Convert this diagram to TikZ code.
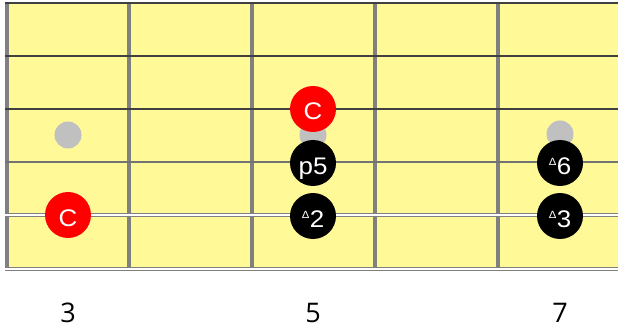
\documentclass[tikz,border=0pt]{standalone}
\usepackage{fontspec}
\setmainfont{Liberation Sans}
\newfontfamily\notefont[FakeStretch=1.08]{Liberation Sans}
\newfontfamily\numfont{Open Sans}
\definecolor{board}{HTML}{FFF998}
\definecolor{fretgray}{HTML}{808080}
\definecolor{inlay}{HTML}{C0C0C0}
\definecolor{strdark}{HTML}{404040}
\newcommand{\tri}{\raisebox{9.3pt}{\fontsize{10.5}{10.5}\selectfont Δ}\kern0.4pt}
\tikzset{
  x=1pt, y=-1pt,
  fretline/.style={line width=4pt, draw=fretgray},
  thinstring/.style={line width=1.1pt, draw=strdark},
  midstring/.style={line width=2pt, draw=fretgray!90!black},
  woundstring/.style={draw=fretgray, line width=1pt, double=white, double distance=1.1pt},
  inlaydot/.style={circle, fill=inlay, minimum size=27pt, inner sep=0pt},
  rootnote/.style={circle, fill=red, minimum size=46pt, inner sep=0pt},
  scalenote/.style={circle, fill=black, minimum size=46pt, inner sep=0pt},
  notetext/.style={anchor=base, inner sep=0pt, text=white, font=\notefont\fontsize{24}{24}\selectfont},
  fretnum/.style={anchor=base, inner sep=0pt, font=\numfont\fontsize{27}{27}\selectfont, text=black}
}
\begin{document}
\begin{tikzpicture}
\useasboundingbox (0,0) rectangle (618,331);
\fill[board] (7,3) rectangle (618,268);
% frets
\foreach \x/\n in {7/f0,129/f1,252/f2,375/f3,498/f4}{
  \coordinate (\n t) at (\x,3);
  \coordinate (\n b) at (\x,268);
  \draw[fretline] (\n t) -- (\n b);
}
% strings
\coordinate (s1a) at (5,3);   \coordinate (s1b) at (618,3);
\coordinate (s2a) at (5,56);  \coordinate (s2b) at (618,56);
\coordinate (s3a) at (5,109); \coordinate (s3b) at (618,109);
\coordinate (s4a) at (5,162); \coordinate (s4b) at (618,162);
\coordinate (s5a) at (5,215); \coordinate (s5b) at (618,215);
\coordinate (s6a) at (5,269); \coordinate (s6b) at (618,269);
\draw[thinstring] (s1a) -- (s1b);
\draw[thinstring] (s2a) -- (s2b);
\draw[thinstring] (s3a) -- (s3b);
\draw[midstring] (s4a) -- (s4b);
\draw[woundstring] (s5a) -- (s5b);
\draw[woundstring] (s6a) -- (s6b);
% inlays
\node[inlaydot] (i3) at (68,135) {};
\node[inlaydot] (i5) at (313,135) {};
\node[inlaydot] (i7) at (560,134) {};
% notes
\node[rootnote] (c3) at (68,215) {};
\node[rootnote] (c5) at (313,109) {};
\node[scalenote] (p5) at (313,163) {};
\node[scalenote] (m2) at (313,216) {};
\node[scalenote] (m6) at (560,163) {};
\node[scalenote] (m3) at (560,216) {};
\node[notetext] (c3t) at ([yshift=-11pt]c3.center) {C};
\node[notetext] (c5t) at ([yshift=-11pt]c5.center) {C};
\node[notetext] (p5t) at ([yshift=-11.5pt]p5.center) {p5};
\node[notetext] (m2t) at ([yshift=-11.5pt]m2.center) {\tri2};
\node[notetext] (m6t) at ([yshift=-11.5pt]m6.center) {\tri6};
\node[notetext] (m3t) at ([yshift=-11.5pt]m3.center) {\tri3};
% fret numbers
\node[fretnum] (n3) at (68,322) {3};
\node[fretnum] (n5) at (313,322) {5};
\node[fretnum] (n7) at (560,322) {7};
\end{tikzpicture}
\end{document}
